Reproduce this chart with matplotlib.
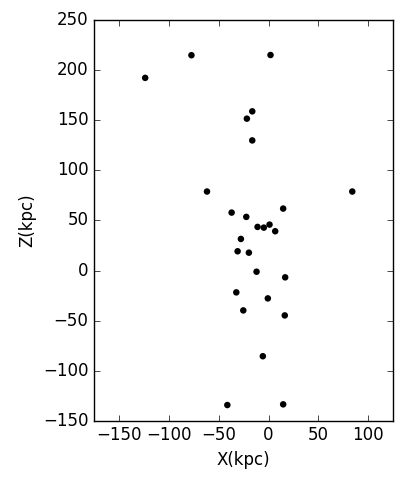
import matplotlib
matplotlib.use('Agg')
import matplotlib.pyplot as plt

# X and Z positions (kpc)
x_kpc = [-77.3, 2.0, -123.7, -16.3, -21.7, -16.3, -61.7, 84.0, -37.0, 14.7,
         -22.3, -11.0, -4.7, 1.0, 6.7, -27.7, -31.0, -19.7, -12.0, 16.7,
         -32.3, -0.7, -25.3, 16.3, -5.7, -41.3, 14.7]
z_kpc = [214.8, 215.0, 192.2, 158.8, 151.5, 129.8, 78.8, 78.8, 57.8, 61.8,
         53.5, 43.5, 42.8, 45.8, 39.2, 31.5, 19.2, 17.8, -1.2, -6.8,
         -21.8, -27.8, -39.8, -44.8, -85.5, -134.2, -133.5]

x_ticks = [-150, -100, -50, 0, 50, 100]
z_ticks = [-150, -100, -50, 0, 50, 100, 150, 200, 250]

plt.style.use('classic')
fig = plt.figure(figsize=(4.07, 4.86), dpi=100, facecolor='white')
ax = fig.add_axes([0.231, 0.134, 0.735, 0.825])
ax.scatter(x_kpc, z_kpc, s=22, color='black', edgecolors='none')
ax.set_xlim(-175, 125)
ax.set_ylim(-150, 250)
ax.set_xticks(x_ticks)
ax.set_yticks(z_ticks)
ax.tick_params(labelsize=12, direction='in', top=True, right=True, length=4)
ax.set_xlabel('X(kpc)', fontsize=12)
ax.set_ylabel('Z(kpc)', fontsize=12)
fig.savefig('out.png', dpi=100, facecolor='white')
